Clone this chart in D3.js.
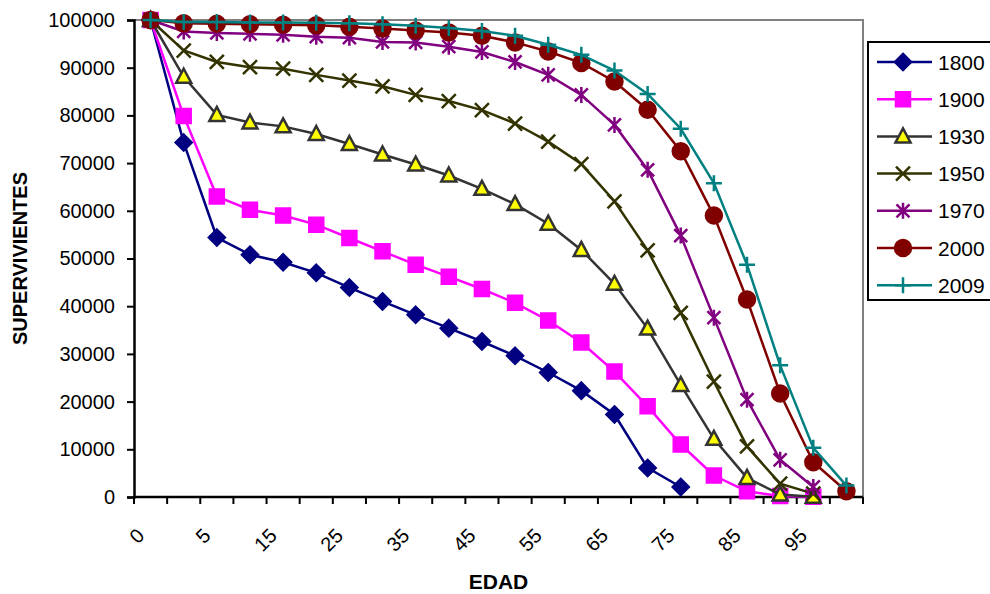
<!DOCTYPE html>
<html>
<head>
<meta charset="utf-8">
<script src="https://cdn.jsdelivr.net/npm/d3@7"></script>
<style>
  body { margin: 0; background: #fff; overflow: hidden; }
  svg { font-family: Arial, "Liberation Sans", sans-serif; }
</style>
</head>
<body>
<div id="chart"></div>
<script>
// categories (ages) and survivors per cohort year
var ages = ["0", "1", "5", "10", "15", "20", "25", "30", "35", "40", "45", "50",
            "55", "60", "65", "70", "75", "80", "85", "90", "95", "100"];
var yTicks = [0, 10000, 20000, 30000, 40000, 50000, 60000, 70000, 80000, 90000, 100000];
var seriesNames = ["1800", "1900", "1930", "1950", "1970", "2000", "2009"];

var s1800 = [100000, 74300, 54400, 50800, 49200, 47000, 43900, 41000, 38200, 35400, 32600, 29600,
             26100, 22300, 17300, 6100, 2100, null, null, null, null, null];
var s1900 = [100000, 79900, 63000, 60200, 59000, 57100, 54300, 51500, 48700, 46200, 43600, 40700,
             37000, 32400, 26300, 19000, 11000, 4500, 1200, 200, 50, null];
var s1930 = [100000, 88100, 80100, 78500, 77700, 76100, 74000, 71800, 69700, 67400, 64600, 61400,
             57300, 51800, 44700, 35300, 23500, 12200, 4000, 500, 50, null];
var s1950 = [100000, 93600, 91200, 90100, 89800, 88500, 87300, 86100, 84300, 83000, 81100, 78300,
             74500, 69800, 62000, 51700, 38600, 24200, 10600, 2800, 700, null];
var s1970 = [100000, 97600, 97300, 97100, 96900, 96500, 96300, 95400, 95300, 94400, 93300, 91200,
             88500, 84300, 78000, 68600, 54800, 37600, 20400, 7800, 2100, null];
var s2000 = [100000, 99300, 99200, 99100, 99000, 98900, 98600, 98200, 97800, 97400, 96700, 95300,
             93400, 91000, 87100, 81200, 72500, 59000, 41400, 21700, 7300, 1200];
var s2009 = [100000, 99600, 99600, 99500, 99500, 99400, 99300, 99100, 98800, 98300, 97700, 96700,
             94800, 92700, 89400, 84500, 77200, 65800, 48700, 27600, 10300, 2400];

var allSeries = [s1800, s1900, s1930, s1950, s1970, s2000, s2009];

// styles for each series
var styles = [
  { color: "#000080", marker: "diamond", fill: "#000080", stroke: "#000080" },
  { color: "#FF00FF", marker: "square", fill: "#FF00FF", stroke: "#FF00FF" },
  { color: "#333333", marker: "triangle", fill: "#FFFF00", stroke: "#333333" },
  { color: "#333300", marker: "x", fill: "none", stroke: "#333300" },
  { color: "#800080", marker: "asterisk", fill: "none", stroke: "#800080" },
  { color: "#800000", marker: "circle", fill: "#800000", stroke: "#800000" },
  { color: "#008080", marker: "plus", fill: "none", stroke: "#008080" }
];

var W = 990, H = 594;
var plot = { left: 134, right: 863, top: 20, bottom: 497 };

var svg = d3.select("#chart")
    .append("svg")
    .attr("width", W)
    .attr("height", H);

var x = d3.scaleBand()
    .domain(ages)
    .range([plot.left, plot.right])
    .padding(0);

var y = d3.scaleLinear()
    .domain([0, 100000])
    .range([plot.bottom, plot.top]);

// grey frame top / right
svg.append("path")
    .attr("d", "M" + plot.left + "," + plot.top + "H" + plot.right + "V" + plot.bottom)
    .attr("fill", "none")
    .attr("stroke", "#808080")
    .attr("stroke-width", 2);

// y axis
var yAxis = svg.append("g")
    .attr("transform", "translate(" + plot.left + ",0)")
    .call(d3.axisLeft(y).tickValues(yTicks).tickSize(7).tickPadding(12).tickFormat(d3.format("d")));
yAxis.select(".domain").attr("stroke", "#000").attr("stroke-width", 2.5);
yAxis.selectAll(".tick line").attr("stroke", "#000").attr("stroke-width", 2);
yAxis.selectAll("text")
    .attr("font-size", "20px")
    .attr("font-family", "Arial, 'Liberation Sans', sans-serif")
    .attr("fill", "#000");

// x axis (ticks between categories)
svg.append("line")
    .attr("x1", plot.left).attr("x2", plot.right)
    .attr("y1", plot.bottom).attr("y2", plot.bottom)
    .attr("stroke", "#000").attr("stroke-width", 2.5);

var bounds = ages.map(function(a) { return x(a); }).concat([plot.right]);
svg.append("g").selectAll("line")
    .data(bounds)
    .enter()
    .append("line")
    .attr("x1", function(d) { return d; })
    .attr("x2", function(d) { return d; })
    .attr("y1", plot.bottom)
    .attr("y2", plot.bottom + 7)
    .attr("stroke", "#000")
    .attr("stroke-width", 2);

svg.append("g").selectAll("text")
    .data(ages.filter(function(d, i) { return i % 2 === 0; }))
    .enter()
    .append("text")
    .attr("transform", function(d) {
      return "translate(" + (x(d) + x.bandwidth() / 2 - 5) + "," + 537 + ") rotate(-45)";
    })
    .attr("text-anchor", "end")
    .attr("font-size", "20px")
    .attr("fill", "#000")
    .text(function(d) { return d; });

// axis titles
svg.append("text")
    .attr("x", (plot.left + plot.right) / 2)
    .attr("y", 589)
    .attr("text-anchor", "middle")
    .attr("font-size", "21px")
    .attr("font-weight", "bold")
    .text("EDAD");

svg.append("text")
    .attr("transform", "translate(27," + ((plot.top + plot.bottom) / 2) + ") rotate(-90)")
    .attr("text-anchor", "middle")
    .attr("font-size", "20px")
    .attr("font-weight", "bold")
    .text("SUPERVIVIENTES");

// marker shapes
function markerPath(type) {
  if (type === "diamond") return "M0,-8L8,0L0,8L-8,0Z";
  if (type === "square") return "M-7,-7H7V7H-7Z";
  if (type === "triangle") return "M0,-8L7.5,6L-7.5,6Z";
  if (type === "x") return "M-7,-7L7,7M-7,7L7,-7";
  if (type === "asterisk") return "M-6.5,-6.5L6.5,6.5M-6.5,6.5L6.5,-6.5M0,-8V8";
  if (type === "plus") return "M-8,0H8M0,-8V8";
  return d3.symbol().type(d3.symbolCircle).size(Math.PI * 64)();
}

var line = d3.line()
    .defined(function(d) { return d != null; })
    .x(function(d, i) { return x(ages[i]) + x.bandwidth() / 2; })
    .y(function(d) { return y(d); });

allSeries.forEach(function(series, k) {
  var st = styles[k];
  var g = svg.append("g");
  g.append("path")
      .datum(series)
      .attr("d", line)
      .attr("fill", "none")
      .attr("stroke", st.color)
      .attr("stroke-width", 2.5);

  g.selectAll("path.mk")
      .data(series.map(function(v, i) { return { v: v, i: i }; }).filter(function(d) { return d.v != null; }))
      .enter()
      .append("path")
      .attr("class", "mk")
      .attr("transform", function(d) {
        return "translate(" + (x(ages[d.i]) + x.bandwidth() / 2) + "," + y(d.v) + ")";
      })
      .attr("d", markerPath(st.marker))
      .attr("fill", st.fill)
      .attr("stroke", st.stroke)
      .attr("stroke-width", 2.5);
});

// legend (box runs past the right edge, as in the original)
var legend = svg.append("g");
legend.append("rect")
    .attr("x", 868)
    .attr("y", 42)
    .attr("width", 200)
    .attr("height", 258)
    .attr("fill", "#fff")
    .attr("stroke", "#000")
    .attr("stroke-width", 2);

var items = legend.selectAll("g.item")
    .data(seriesNames)
    .enter()
    .append("g")
    .attr("class", "item")
    .attr("transform", function(d, i) { return "translate(0," + (62 + i * 37.2) + ")"; });

items.append("line")
    .attr("x1", 877).attr("x2", 932)
    .attr("y1", 0).attr("y2", 0)
    .attr("stroke", function(d, i) { return styles[i].color; })
    .attr("stroke-width", 2.5);

items.append("path")
    .attr("transform", "translate(903,0)")
    .attr("d", function(d, i) { return markerPath(styles[i].marker); })
    .attr("fill", function(d, i) { return styles[i].fill; })
    .attr("stroke", function(d, i) { return styles[i].stroke; })
    .attr("stroke-width", 2.5);

items.append("text")
    .attr("x", 938)
    .attr("y", 0)
    .attr("dy", "0.36em")
    .attr("font-size", "21px")
    .attr("fill", "#000")
    .text(function(d) { return d; });
</script>
</body>
</html>
